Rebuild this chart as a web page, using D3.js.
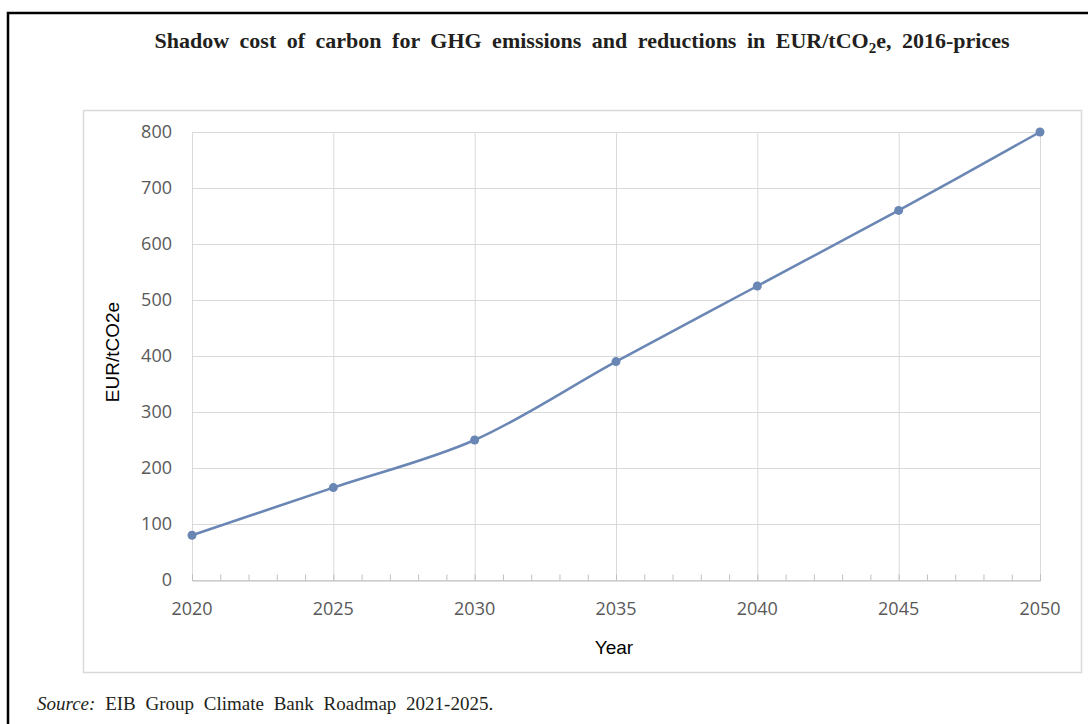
<!DOCTYPE html>
<html>
<head>
<meta charset="utf-8">
<script src="https://cdn.jsdelivr.net/npm/d3@7"></script>
<style>
  body { margin: 0; background: #fff; }
  svg { display: block; }
</style>
</head>
<body>
<div id="chart"></div>
<script>
// chart data
var years = [2020, 2025, 2030, 2035, 2040, 2045, 2050];
var shadowCost = [80, 165, 250, 390, 525, 660, 800];
var yTicks = [0, 100, 200, 300, 400, 500, 600, 700, 800];

var W = 1088, H = 724;
var svg = d3.select("#chart").append("svg")
  .attr("width", W).attr("height", H);

// outer page frame (black), runs off the right/bottom edges
svg.append("rect")
  .attr("x", 8).attr("y", 13).attr("width", 1100).attr("height", 730)
  .attr("fill", "none").attr("stroke", "#000").attr("stroke-width", 2.5);

// title
var title = svg.append("text")
  .attr("x", 582).attr("y", 48)
  .attr("text-anchor", "middle")
  .style("font-family", "'Liberation Serif', 'DejaVu Serif', serif")
  .style("font-weight", "bold")
  .style("font-size", "22px")
  .style("word-spacing", "5px")
  .attr("fill", "#231f20");
title.append("tspan").text("Shadow cost of carbon for GHG emissions and reductions in EUR/tCO");
title.append("tspan").attr("dy", 5).style("font-size", "15px").text("2");
title.append("tspan").attr("dy", -5).text("e, 2016-prices");

// chart area box
svg.append("rect")
  .attr("x", 83.5).attr("y", 110.5).attr("width", 998).attr("height", 562)
  .attr("fill", "none").attr("stroke", "#d9d9d9").attr("stroke-width", 1.5);

var x = d3.scaleLinear().domain([2020, 2050]).range([192, 1040]);
var y = d3.scaleLinear().domain([0, 800]).range([580, 132]);

var g = svg.append("g");

// horizontal gridlines
g.selectAll(".hgrid").data(yTicks).enter().append("line")
  .attr("x1", x(2020)).attr("x2", x(2050))
  .attr("y1", function(d) { return y(d) + 0.5; })
  .attr("y2", function(d) { return y(d) + 0.5; })
  .attr("stroke", "#d9d9d9").attr("stroke-width", 1);

// vertical gridlines every 5 years
g.selectAll(".vgrid").data(years).enter().append("line")
  .attr("x1", function(d) { return x(d) + 0.5; })
  .attr("x2", function(d) { return x(d) + 0.5; })
  .attr("y1", y(800)).attr("y2", y(0))
  .attr("stroke", "#d9d9d9").attr("stroke-width", 1);

// x axis with minor ticks at every year
var xAxis = d3.axisTop(x)
  .tickValues(d3.range(2020, 2051, 1))
  .tickSize(6).tickFormat("");
g.append("g").attr("transform", "translate(0," + (y(0) + 0.5) + ")")
  .call(xAxis)
  .call(function(s) {
    s.select(".domain").attr("stroke", "#bfbfbf");
    s.selectAll(".tick line").attr("stroke", "#bfbfbf");
  });

// tick labels
g.selectAll(".xlab").data(years).enter().append("text")
  .attr("x", function(d) { return x(d); })
  .attr("y", 615)
  .attr("text-anchor", "middle")
  .style("font-family", "'Open Sans', 'Noto Sans', sans-serif")
  .style("font-size", "18px")
  .attr("fill", "#595959")
  .text(function(d) { return d; });

g.selectAll(".ylab").data(yTicks).enter().append("text")
  .attr("x", 172)
  .attr("y", function(d) { return y(d) + 6; })
  .attr("text-anchor", "end")
  .style("font-family", "'Open Sans', 'Noto Sans', sans-serif")
  .style("font-size", "18px")
  .attr("fill", "#595959")
  .text(function(d) { return d; });

// axis titles
svg.append("text")
  .attr("x", 614).attr("y", 654)
  .attr("text-anchor", "middle")
  .style("font-family", "'Liberation Sans', Arial, sans-serif")
  .style("font-size", "19px")
  .attr("fill", "#000")
  .text("Year");

svg.append("text")
  .attr("transform", "translate(119,352) rotate(-90)")
  .attr("text-anchor", "middle")
  .style("font-family", "'Liberation Sans', Arial, sans-serif")
  .style("font-size", "19px")
  .attr("fill", "#000")
  .text("EUR/tCO2e");

// series line
var points = years.map(function(d, i) { return [d, shadowCost[i]]; });
var line = d3.line()
  .x(function(d) { return x(d[0]); })
  .y(function(d) { return y(d[1]); })
  .curve(d3.curveCatmullRom.alpha(0.5));

g.append("path").datum(points)
  .attr("d", line)
  .attr("fill", "none")
  .attr("stroke", "#6a86b4")
  .attr("stroke-width", 2.5);

g.selectAll(".pt").data(points).enter().append("circle")
  .attr("cx", function(d) { return x(d[0]); })
  .attr("cy", function(d) { return y(d[1]); })
  .attr("r", 4.5)
  .attr("fill", "#6a86b4");

// source note
var src = svg.append("text")
  .attr("x", 37).attr("y", 710)
  .style("font-family", "'Liberation Serif', 'DejaVu Serif', serif")
  .style("font-size", "19px")
  .style("word-spacing", "5px")
  .attr("fill", "#231f20");
src.append("tspan").style("font-style", "italic").text("Source:");
src.append("tspan").text(" EIB Group Climate Bank Roadmap 2021-2025.");
</script>
</body>
</html>
